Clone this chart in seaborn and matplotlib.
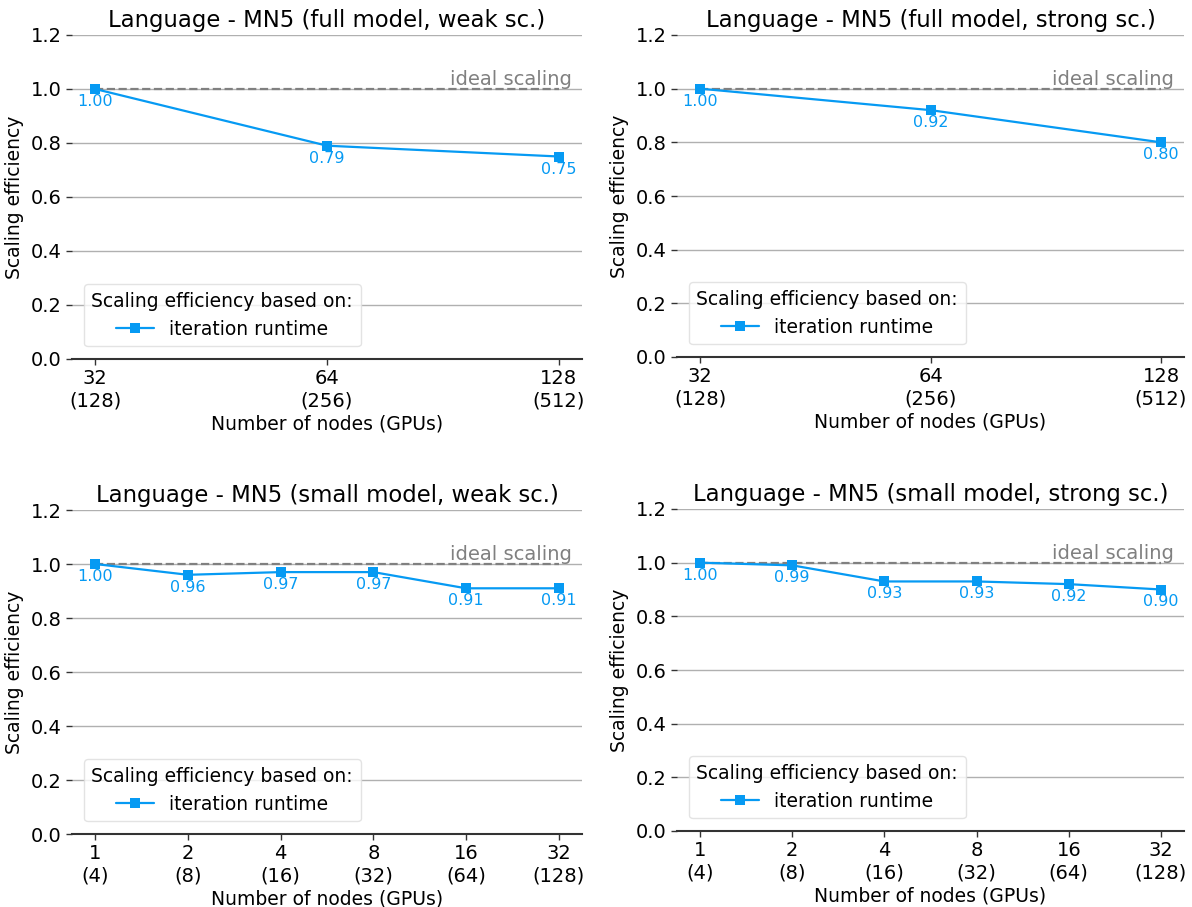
import matplotlib
matplotlib.use("Agg")
import matplotlib.pyplot as plt
import seaborn as sns
import pandas as pd

# Node counts (GPU counts) for the two model sizes
full_nodes = ["32\n(128)", "64\n(256)", "128\n(512)"]
small_nodes = ["1\n(4)", "2\n(8)", "4\n(16)", "8\n(32)", "16\n(64)", "32\n(128)"]

# Scaling efficiency based on iteration runtime
full_weak = [1.00, 0.79, 0.75]
full_strong = [1.00, 0.92, 0.80]
small_weak = [1.00, 0.96, 0.97, 0.97, 0.91, 0.91]
small_strong = [1.00, 0.99, 0.93, 0.93, 0.92, 0.90]

titles = [
    "Language - MN5 (full model, weak sc.)",
    "Language - MN5 (full model, strong sc.)",
    "Language - MN5 (small model, weak sc.)",
    "Language - MN5 (small model, strong sc.)",
]

LINE = "#069af3"
GREY = "#808080"

sns.set_theme(style="white")
plt.rcParams["font.family"] = ["DejaVu Sans"]
plt.rcParams["text.color"] = "black"
plt.rcParams["axes.labelcolor"] = "black"
plt.rcParams["xtick.color"] = "black"
plt.rcParams["ytick.color"] = "black"

fig = plt.figure(figsize=(11.92, 9.07), dpi=100)
W, H = 1192, 907
rects = [
    (72, 35, 582, 359),
    (677, 35, 1184, 357),
    (72, 510, 582, 834),
    (677, 509, 1184, 831),
]
panels = [
    (full_nodes, full_weak),
    (full_nodes, full_strong),
    (small_nodes, small_weak),
    (small_nodes, small_strong),
]

for (x0, y0, x1, y1), (labels, vals), title in zip(rects, panels, titles):
    ax = fig.add_axes([x0 / W, 1 - y1 / H, (x1 - x0) / W, (y1 - y0) / H])
    df = pd.DataFrame({"pos": range(len(vals)), "eff": vals,
                       "metric": "iteration runtime"})
    n = len(vals)
    # ideal scaling reference
    ax.plot([0, n - 1], [1.0, 1.0], ls="--", color=GREY, lw=1.6, zorder=2)
    sns.lineplot(data=df, x="pos", y="eff", hue="metric", palette=[LINE],
                 marker="s", markersize=7.5, markeredgewidth=0, lw=1.6,
                 ax=ax, zorder=3)
    for i, v in enumerate(vals):
        ax.annotate(f"{v:.2f}", (i, v), xytext=(0, -9), textcoords="offset points",
                    ha="center", va="center", color=LINE, fontsize=11.5)
    ax.text(0.98, 1.0, "ideal scaling", transform=ax.get_yaxis_transform(),
            ha="right", va="bottom", color=GREY, fontsize=14)
    pad = (n - 1) * 0.05
    ax.set_xlim(-pad, n - 1 + pad)
    ax.set_ylim(0, 1.2)
    ax.set_yticks([0, 0.2, 0.4, 0.6, 0.8, 1.0, 1.2])
    ax.set_xticks(range(n))
    ax.set_xticklabels(labels)
    ax.grid(axis="y", color="#b0b0b0", lw=1)
    ax.set_axisbelow(True)
    for s in ["left", "right", "top"]:
        ax.spines[s].set_visible(False)
    ax.spines["bottom"].set_color("#333333")
    ax.spines["bottom"].set_linewidth(1.5)
    ax.tick_params(axis="both", labelsize=14, length=4, width=1, color="#333333",
                   bottom=True, left=True)
    ax.set_title(title, fontsize=16.4)
    ax.set_xlabel("Number of nodes (GPUs)", fontsize=13.5, labelpad=3)
    ax.set_ylabel("Scaling efficiency", fontsize=13.5, labelpad=5)
    leg = ax.legend(title="Scaling efficiency based on:", loc="lower left",
                    fontsize=13.5, title_fontsize=13.5, frameon=True,
                    bbox_to_anchor=(0.005, 0.01))
    leg.get_frame().set_edgecolor("#dddddd")

fig.savefig("out.png", dpi=100)
